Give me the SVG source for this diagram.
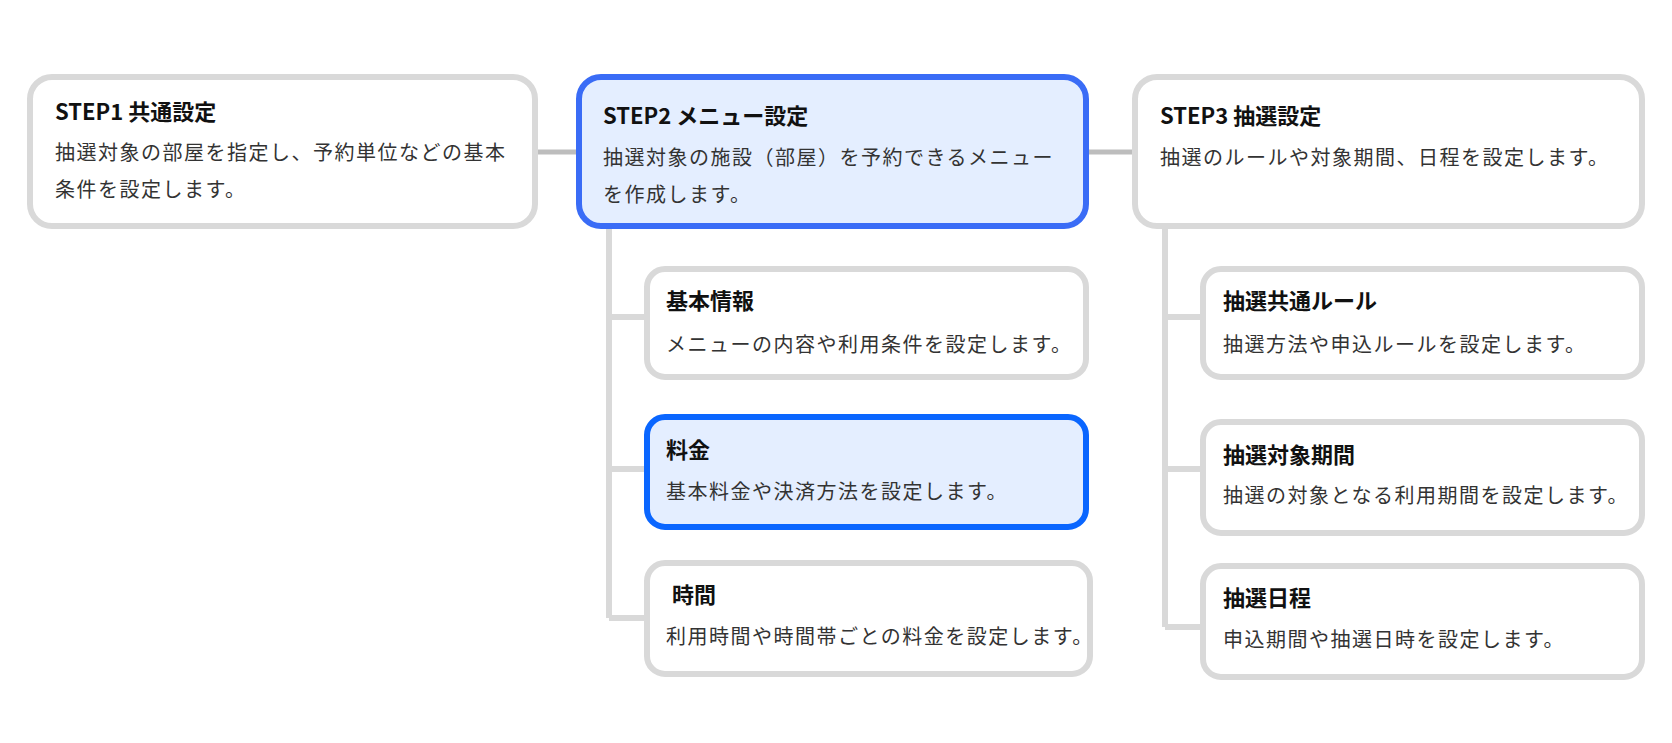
<svg xmlns="http://www.w3.org/2000/svg" width="1672" height="743" viewBox="0 0 1672 743">
<style>
.box{fill:#fff;stroke:#d9d9d9;stroke-width:6}
.sel{fill:#e4eeff;stroke:#3a6cf6;stroke-width:6}
.sel2{fill:#e4eeff;stroke:#0a66ff;stroke-width:6}
.t{font-family:"Noto Sans CJK JP","Noto Sans",sans-serif;font-size:22px;font-weight:700;fill:#111}
.d{font-family:"Noto Sans CJK JP","Noto Sans",sans-serif;font-size:20px;letter-spacing:1.5px;fill:#333}
.c{stroke:#bdbdbd;stroke-width:5;fill:none}
.c2{stroke:#d9d9d9;stroke-width:6;fill:none}
</style>
<rect width="1672" height="743" fill="#fff"/>
<g id="connectors">
<line class="c" x1="535" y1="152" x2="579" y2="152"/>
<line class="c" x1="1086" y1="152" x2="1135" y2="152"/>
<path class="c2" d="M609 226 V618 M609 317 H647 M609 469 H647 M609 618 H647"/>
<path class="c2" d="M1165 226 V627 M1165 317 H1203 M1165 469 H1203 M1165 627 H1203"/>
</g>
<g id="step1"><rect class="box" x="30" y="77" width="505" height="149" rx="22"/>
<text class="t" x="55" y="120">STEP1 共通設定</text>
<text class="d" x="55" y="160">抽選対象の部屋を指定し、予約単位などの基本</text>
<text class="d" x="55" y="197">条件を設定します。</text></g>
<g id="step2"><rect class="sel" x="579" y="77" width="507" height="149" rx="22"/>
<text class="t" x="603" y="124">STEP2 メニュー設定</text>
<text class="d" x="603" y="165">抽選対象の施設（部屋）を予約できるメニュー</text>
<text class="d" x="603" y="202">を作成します。</text></g>
<g id="step3"><rect class="box" x="1135" y="77" width="507" height="149" rx="22"/>
<text class="t" x="1160" y="124">STEP3 抽選設定</text>
<text class="d" x="1160" y="165">抽選のルールや対象期間、日程を設定します。</text></g>
<g id="kihon"><rect class="box" x="647" y="269" width="439" height="108" rx="18"/>
<text class="t" x="666" y="309">基本情報</text>
<text class="d" x="666" y="352">メニューの内容や利用条件を設定します。</text></g>
<g id="ryokin"><rect class="sel2" x="647" y="417" width="439" height="110" rx="18"/>
<text class="t" x="666" y="458">料金</text>
<text class="d" x="666" y="499">基本料金や決済方法を設定します。</text></g>
<g id="jikan"><rect class="box" x="647" y="563" width="443" height="111" rx="18"/>
<text class="t" x="672" y="603">時間</text>
<text class="d" x="666" y="644">利用時間や時間帯ごとの料金を設定します。</text></g>
<g id="rule"><rect class="box" x="1203" y="269" width="439" height="108" rx="18"/>
<text class="t" x="1223" y="309">抽選共通ルール</text>
<text class="d" x="1223" y="352">抽選方法や申込ルールを設定します。</text></g>
<g id="kikan"><rect class="box" x="1203" y="422" width="439" height="111" rx="18"/>
<text class="t" x="1223" y="463">抽選対象期間</text>
<text class="d" x="1223" y="503">抽選の対象となる利用期間を設定します。</text></g>
<g id="nittei"><rect class="box" x="1203" y="566" width="439" height="111" rx="18"/>
<text class="t" x="1223" y="606">抽選日程</text>
<text class="d" x="1223" y="647">申込期間や抽選日時を設定します。</text></g>
</svg>
